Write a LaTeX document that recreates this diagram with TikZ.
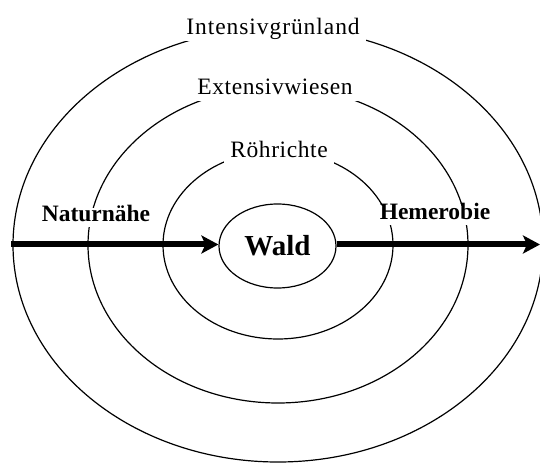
\documentclass[tikz,border=0pt]{standalone}
\usepackage{fontspec}
\setmainfont{Liberation Serif}
\usetikzlibrary{arrows.meta,shapes.geometric}

\tikzset{
  ring/.style={line width=1.2bp},
  ringlabel/.style={anchor=base, fill=white, inner xsep=6bp, inner ysep=4bp,
    text height=0.72em, text depth=0.25em, font=\fontsize{23.5bp}{28bp}\selectfont},
  sidelabel/.style={anchor=base, fill=white, inner xsep=6bp, inner ysep=4bp,
    text height=1em, text depth=0.15em, font=\fontsize{23.5bp}{28bp}\selectfont\bfseries},
  centre/.style={ellipse, draw, line width=1.2bp, minimum width=117bp, minimum height=84bp,
    inner sep=0pt, font=\fontsize{29bp}{34bp}\selectfont\bfseries},
  flow/.style={line width=6bp, -{Stealth[length=17bp, width=18bp, inset=4bp]}}
}

\begin{document}
\begin{tikzpicture}[x=1bp, y=-1bp]
  \useasboundingbox (0,0) rectangle (540,463);
  \clip (0,0) rectangle (540,463);

  % concentric zones around the forest core
  \coordinate (mid) at (278,245);
  \draw[ring] (mid) ellipse [x radius=265, y radius=217];
  \draw[ring] (mid) ellipse [x radius=190, y radius=158];
  \draw[ring] (mid) ellipse [x radius=115, y radius=94];

  % zone names sitting in gaps of the rings
  \node[ringlabel] (intensiv) at (273,34.5) {\addfontfeature{LetterSpace=4}Intensivgrünland};
  \node[ringlabel] (extensiv) at (275,95) {\addfontfeature{LetterSpace=2.5}Extensivwiesen};
  \node[ringlabel] (roehricht) at (279,158) {\addfontfeature{LetterSpace=2.5}Röhrichte};

  % gradient labels, also cutting the rings
  \node[sidelabel] (natur) at (96,221.5) {Naturnähe};
  \node[sidelabel] (hemer) at (435,220) {Hemerobie};

  % core
  \node[centre] (wald) at (277.5,246) {Wald};

  % gradient arrows
  \coordinate (lstart) at (11,244.5);
  \coordinate (rend) at (540,244.5);
  \draw[flow] (lstart) -- (lstart -| wald.west);
  \draw[flow] (rend -| wald.east) -- (rend);
\end{tikzpicture}
\end{document}
